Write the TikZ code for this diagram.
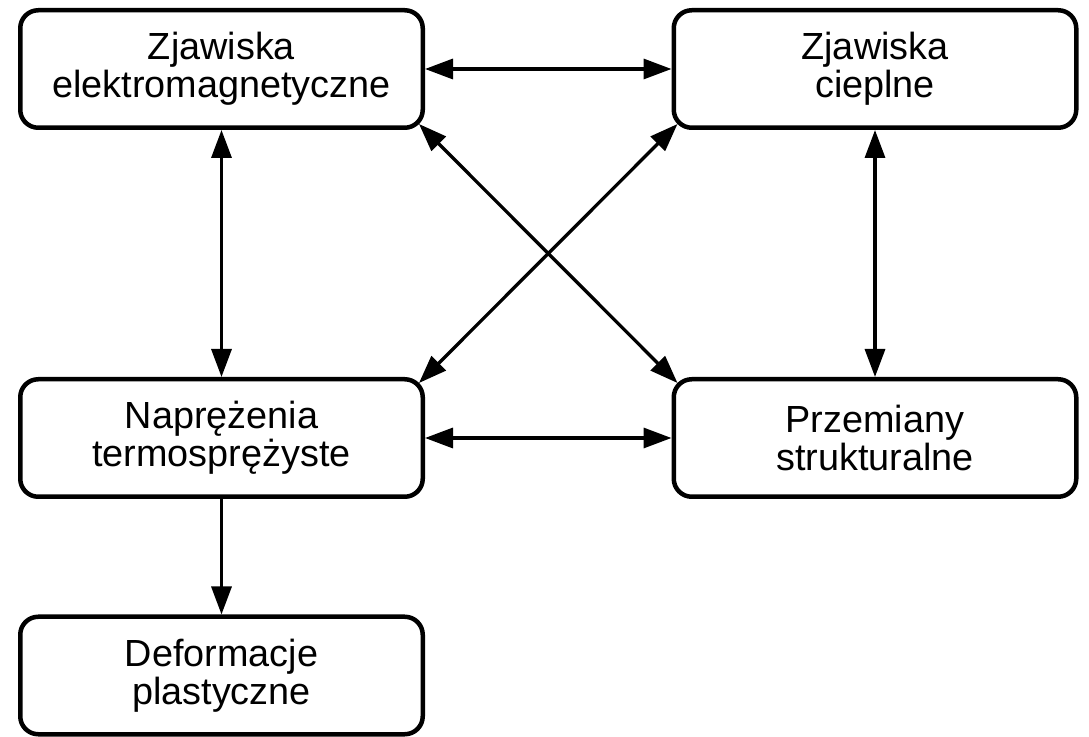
\documentclass[tikz,border=0pt]{standalone}
\usepackage{fontspec}
\setmainfont{Liberation Sans}
\usetikzlibrary{arrows.meta,calc}
\begin{document}
\begin{tikzpicture}[x=1pt,y=1pt,
  box/.style={draw=black, line width=4.5pt, rounded corners=18pt, fill=white,
    minimum width=402.5pt, minimum height=117.5pt, align=center,
    font=\fontsize{37.8}{38}\selectfont},
  conn/.style={line width=3.3pt, black},
  tipa/.style={-{Triangle[length=28pt,width=20pt]}},
  tipb/.style={{Triangle[length=28pt,width=20pt]}-{Triangle[length=28pt,width=20pt]}}
]
\useasboundingbox (0,0) rectangle (1089,736);
\node[box] (A) at (221.5,667) {Zjawiska\\elektromagnetyczne};
\node[box] (B) at (875,667) {Zjawiska\\cieplne};
\node[box] (C) at (221.5,298) {Naprężenia\\termosprężyste};
\node[box] (D) at (875,298) {Przemiany\\strukturalne};
\node[box] (E) at (221.5,60.5) {Deformacje\\plastyczne};
\coordinate (Ase) at ($(A.south east)+(-6,6)$);
\coordinate (Dnw) at ($(D.north west)+(6,-6)$);
\coordinate (Bsw) at ($(B.south west)+(6,6)$);
\coordinate (Cne) at ($(C.north east)+(-6,-6)$);
\draw[conn,tipb] (A) -- (B);
\draw[conn,tipb] (A) -- (C);
\draw[conn,tipb] (B) -- (D);
\draw[conn,tipb] (C) -- (D);
\draw[conn,tipb] (Ase) -- (Dnw);
\draw[conn,tipb] (Bsw) -- (Cne);
\draw[conn,tipa] (C) -- (E);
\end{tikzpicture}
\end{document}
